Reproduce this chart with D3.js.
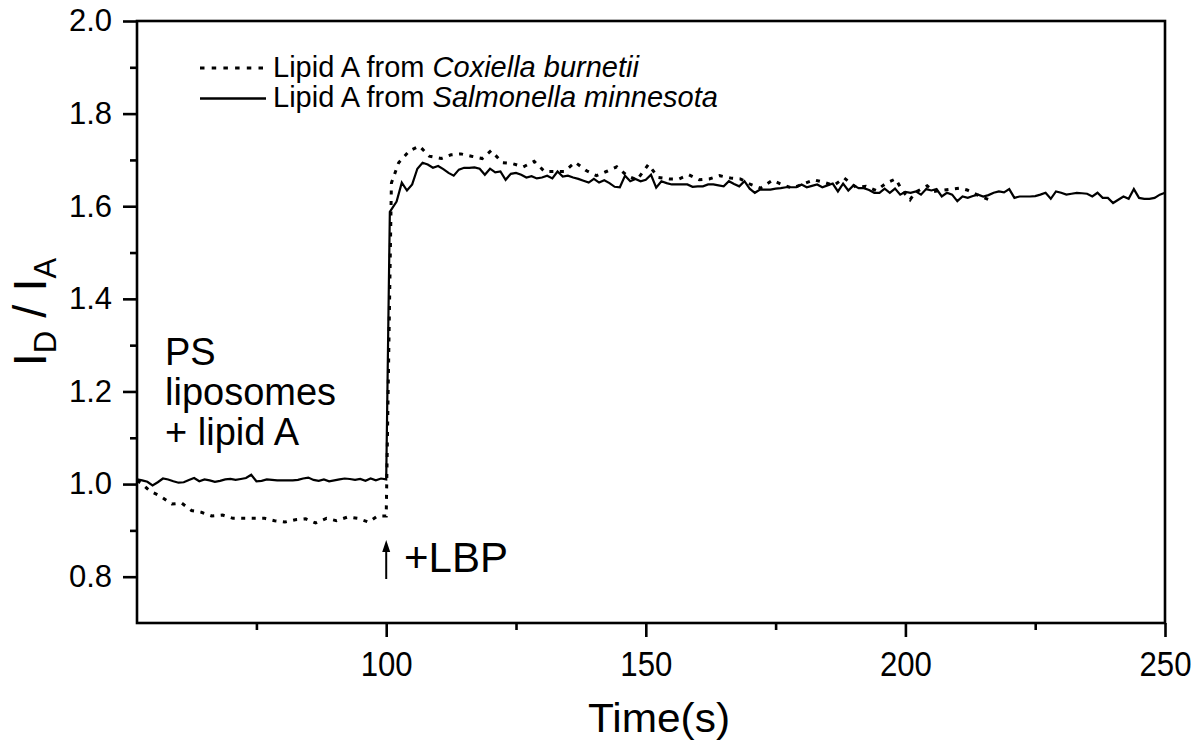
<!DOCTYPE html>
<html><head><meta charset="utf-8">
<script src="https://cdn.jsdelivr.net/npm/d3@7"></script>
<style>
html,body{margin:0;padding:0;background:#fff;}
svg{display:block;font-family:"Liberation Sans",Arial,sans-serif;}
</style></head>
<body><svg id="chart" width="1197" height="742"></svg>
<script>
// ---- data ----
const xTicksMajor = [100, 150, 200, 250];
const xTicksMinor = [75, 125, 175, 225];
const yTicksMajor = [0.8, 1.0, 1.2, 1.4, 1.6, 1.8, 2.0];
const yTicksMinor = [0.9, 1.1, 1.3, 1.5, 1.7, 1.9];
const seriesNames = ["Lipid A from ", "Coxiella burnetii", "Salmonella minnesota"];

// Lipid A from Salmonella minnesota (solid)
const salmonellaTime = [52,53,54,55,56,57,58,59,60,61,62,63,64,65,66,67,68,69,70,71,72,73,74,75,76,77,78,79,80,81,82,83,84,85,86,87,88,89,90,91,92,93,94,95,96,97,98,99,100,
100.7,102,103,104,105,106,107,108,109,110,111,112,113,114,115,116,117,118,119,120,121,122,123,124,125,126,127,128,129,130,131,132,133,134,135,136,137,138,139,140,141,142,143,144,145,146,147,148,149,150,
151,152,153,154,155,156,157,158,159,160,161,162,163,164,165,166,167,168,169,170,171,172,173,174,175,176,177,178,179,180,181,182,183,184,185,186,187,188,189,190,191,192,193,194,195,196,197,198,199,200,
201,202,203,204,205,206,207,208,209,210,211,212,213,214,215,216,217,218,219,220,221,222,223,224,225,226,227,228,229,230,231,232,233,234,235,236,237,238,239,240,241,242,243,244,245,246,247,248,249,250];
const salmonellaValue = [1.010,1.008,1.005,0.997,1.004,1.012,1.010,1.006,1.003,1.004,1.009,1.013,1.006,1.010,1.008,1.005,1.007,1.010,1.011,1.009,1.011,1.013,1.020,1.006,1.007,1.010,1.009,1.008,1.008,1.008,1.008,1.009,1.012,1.014,1.009,1.007,1.010,1.006,1.008,1.010,1.012,1.011,1.009,1.011,1.007,1.012,1.008,1.012,1.010,
1.588,1.610,1.651,1.634,1.647,1.681,1.694,1.690,1.683,1.687,1.680,1.672,1.666,1.679,1.683,1.683,1.684,1.681,1.668,1.681,1.673,1.675,1.657,1.670,1.672,1.668,1.662,1.665,1.660,1.662,1.666,1.660,1.675,1.664,1.666,1.662,1.659,1.655,1.651,1.659,1.651,1.656,1.650,1.642,1.641,1.666,1.654,1.659,1.654,1.657,
1.668,1.640,1.654,1.650,1.647,1.647,1.647,1.647,1.642,1.643,1.643,1.647,1.647,1.645,1.643,1.654,1.648,1.643,1.654,1.638,1.629,1.636,1.636,1.636,1.638,1.639,1.641,1.641,1.641,1.647,1.641,1.644,1.647,1.641,1.645,1.649,1.632,1.649,1.634,1.645,1.639,1.639,1.635,1.629,1.629,1.638,1.629,1.638,1.625,1.631,
1.629,1.632,1.625,1.637,1.634,1.637,1.621,1.629,1.625,1.611,1.621,1.618,1.622,1.625,1.621,1.624,1.629,1.632,1.630,1.637,1.618,1.621,1.621,1.621,1.622,1.625,1.629,1.616,1.632,1.629,1.625,1.627,1.629,1.628,1.627,1.621,1.629,1.618,1.618,1.607,1.614,1.621,1.616,1.637,1.618,1.616,1.616,1.618,1.625,1.629];

// Lipid A from Coxiella burnetii (dotted)
const coxiellaTime = [52,53,54,55,56.5,58.7,60.6,62.5,64.4,66.4,68.5,70.5,72.6,74.5,76.6,78.5,80.5,82.5,84.5,86.4,88.5,90.4,92.6,94.5,96.6,98.3,100,
101,102.4,104.5,106.4,108.3,110.6,112.5,114.4,116.4,118.5,120.2,122.4,124.3,126.4,128.5,130.5,132.4,134.3,136.4,138.5,140.5,142.4,144.4,146.4,148.3,150.5,152.4,154.5,156.4,158.3,160.3,
162.2,164.2,166.3,168.2,170.2,172.1,174.4,176.2,178.2,180.5,182.4,184.5,186.2,188.2,190.5,192.4,194.4,196.2,198.1,199.5,200.9,201.9,204.2,205.5,207.5,210.6,211.9,214.1,216.1,217];
const coxiellaValue = [1.008,1.000,0.990,0.982,0.974,0.957,0.959,0.943,0.939,0.931,0.933,0.926,0.926,0.926,0.926,0.921,0.918,0.923,0.925,0.916,0.926,0.921,0.929,0.926,0.918,0.931,0.931,
1.650,1.694,1.720,1.730,1.708,1.703,1.711,1.713,1.708,1.703,1.720,1.694,1.692,1.685,1.697,1.675,1.675,1.675,1.695,1.677,1.666,1.675,1.685,1.666,1.657,1.690,1.662,1.659,1.659,1.668,1.657,
1.659,1.666,1.661,1.659,1.647,1.639,1.656,1.647,1.639,1.649,1.657,1.651,1.645,1.661,1.641,1.643,1.634,1.649,1.659,1.632,1.614,1.630,1.644,1.632,1.635,1.639,1.635,1.623,1.614,1.618];

// ---- chart ----
const svg = d3.select("#chart");
const L = 137, R = 1165, T = 21, B = 623;
const x = d3.scaleLinear().domain([52, 250]).range([L, R]);
const y = d3.scaleLinear().domain([0.7, 2.0]).range([B, T]);

const axisW = 2.6;

// minor ticks
const gxm = svg.append("g").attr("transform", `translate(0,${B})`)
  .call(d3.axisBottom(x).tickValues(xTicksMinor).tickSize(7).tickFormat(""));
const gym = svg.append("g").attr("transform", `translate(${L},0)`)
  .call(d3.axisLeft(y).tickValues(yTicksMinor).tickSize(7).tickFormat(""));
// major ticks
const gx = svg.append("g").attr("transform", `translate(0,${B})`)
  .call(d3.axisBottom(x).tickValues(xTicksMajor).tickSize(14).tickPadding(13).tickFormat(d3.format("d")));
const gy = svg.append("g").attr("transform", `translate(${L},0)`)
  .call(d3.axisLeft(y).tickValues(yTicksMajor).tickSize(14).tickPadding(11).tickFormat(d3.format(".1f")));

[gxm, gym, gx, gy].forEach(g => {
  g.select(".domain").remove();
  g.selectAll(".tick line").attr("stroke", "#000").attr("stroke-width", axisW);
});
gx.selectAll(".tick text").attr("fill", "#000").attr("font-size", 35)
  .attr("font-family", "'Liberation Sans', Arial, sans-serif")
  .attr("textLength", 52).attr("lengthAdjust", "spacingAndGlyphs")
  .attr("dy", "0.75em");
gy.selectAll(".tick text").attr("fill", "#000").attr("font-size", 31)
  .attr("font-family", "'Liberation Sans', Arial, sans-serif");

// frame
svg.append("rect").attr("x", L).attr("y", T).attr("width", R - L).attr("height", B - T)
  .attr("fill", "none").attr("stroke", "#000").attr("stroke-width", axisW);

// lines
const line = d3.line().x(d => x(d[0])).y(d => y(d[1]));
const salmonella = salmonellaTime.map((t, i) => [t, salmonellaValue[i]]);
const coxiella = coxiellaTime.map((t, i) => [t, coxiellaValue[i]]);

svg.append("path").datum(coxiella).attr("d", line)
  .attr("fill", "none").attr("stroke", "#000").attr("stroke-width", 3)
  .attr("stroke-dasharray", "4,6.5");
svg.append("path").datum(salmonella).attr("d", line)
  .attr("fill", "none").attr("stroke", "#000").attr("stroke-width", 2.2)
  .attr("stroke-linejoin", "miter");

// legend
const lg = svg.append("g");
lg.append("line").attr("x1", 200).attr("x2", 266).attr("y1", 68).attr("y2", 68)
  .attr("stroke", "#000").attr("stroke-width", 3).attr("stroke-dasharray", "4.5,7.2");
lg.append("line").attr("x1", 200).attr("x2", 266).attr("y1", 98.5).attr("y2", 98.5)
  .attr("stroke", "#000").attr("stroke-width", 2.5);
const t1 = lg.append("text").attr("x", 273).attr("y", 77).attr("font-size", 29);
t1.append("tspan").text(seriesNames[0]);
t1.append("tspan").attr("font-style", "italic").text(seriesNames[1]);
const t2 = lg.append("text").attr("x", 273).attr("y", 107).attr("font-size", 29);
t2.append("tspan").text(seriesNames[0]);
t2.append("tspan").attr("font-style", "italic").text(seriesNames[2]);

// annotations
const ann = svg.append("g").attr("font-size", 38).attr("fill", "#000");
ann.append("text").attr("x", 165).attr("y", 365).text("PS");
ann.append("text").attr("x", 165).attr("y", 405).text("liposomes");
ann.append("text").attr("x", 165).attr("y", 445).text("+ lipid A");
ann.append("text").attr("x", 404).attr("y", 572).attr("font-size", 42).text("+LBP");

// arrow at t=100
const ax = x(100);
svg.append("line").attr("x1", ax).attr("x2", ax).attr("y1", 579).attr("y2", 548)
  .attr("stroke", "#000").attr("stroke-width", 2);
svg.append("path").attr("d", `M${ax-4},${552} L${ax},${540} L${ax+4},${552} Z`).attr("fill", "#000");

// axis titles
svg.append("text").attr("x", 659).attr("y", 732).attr("text-anchor", "middle")
  .attr("font-size", 40).attr("textLength", 142).attr("lengthAdjust", "spacingAndGlyphs")
  .text("Time(s)");

const yt = svg.append("text").attr("transform", "translate(46,312) rotate(-90)")
  .attr("text-anchor", "middle").attr("font-size", 47);
yt.append("tspan").text("I");
yt.append("tspan").attr("font-size", 31).attr("dy", 10).text("D");
yt.append("tspan").attr("dy", -10).text(" / ");
yt.append("tspan").text("I");
yt.append("tspan").attr("font-size", 31).attr("dy", 10).text("A");
</script></body></html>
